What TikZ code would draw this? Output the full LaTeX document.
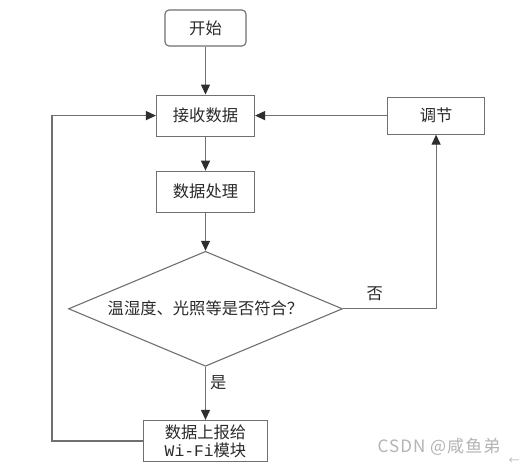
\documentclass[tikz,border=0pt]{standalone}
\usepackage{fontspec}
\setmainfont{Noto Sans CJK SC}
\setmonofont{Liberation Mono}
\usepackage{tikz}
\usetikzlibrary{arrows.meta,positioning,shapes.geometric}
\definecolor{lineGray}{HTML}{707070}
\definecolor{tipDark}{HTML}{2E2E2E}
\definecolor{textDark}{HTML}{2B2B2B}
\definecolor{markGray}{HTML}{B4B4B4}
\tikzset{
  font=\fontsize{16.3}{18}\selectfont,
  box/.style     ={draw=lineGray, fill=white, text=textDark, align=center, inner sep=1pt, line width=1.1pt},
  proc/.style    ={box, minimum width=98pt, minimum height=41pt},
  startbox/.style={box, rounded corners=4pt, minimum width=81pt, minimum height=36pt},
  decide/.style  ={box, diamond, aspect=2.38, inner sep=0pt, minimum width=274pt, minimum height=115pt},
  arr/.style     ={draw=lineGray, line width=1.2pt, -{Triangle[length=10pt,width=9pt,color=tipDark]}},
  lbl/.style     ={text=textDark, inner sep=1pt},
}

\begin{document}
\begin{tikzpicture}[x=1pt,y=-1pt]
  \useasboundingbox[fill=white] (0,0) rectangle (520,468);

  \node[startbox]                                   (start)  at (205.5,28) {开始};
  \node[proc, below=48pt of start]                  (recv)   {接收数据};
  \node[proc, below=34pt of recv]                   (proc)   {数据处理};
  \node[decide, below=38pt of proc]                 (check)  {温湿度、光照等是否符合？};
  \node[proc, minimum width=124pt, below=53pt of check] (report) {数据上报给\\{\ttfamily Wi-Fi}模块};
  \node[proc, minimum width=97pt, minimum height=37pt, right=132pt of recv] (adjust) {调节};
  \coordinate (loop) at (52,0 |- recv.west);

  \draw[arr] (start) -- (recv);
  \draw[arr] (recv) -- (proc);
  \draw[arr] (proc) -- (check);
  \draw[arr] (check) -- node[lbl, right=3pt, pos=0.3] {是} (report);
  \draw[arr] (check.east) -| node[lbl, above=6pt, pos=0.17] {否} (adjust);
  \draw[arr] (adjust) -- (recv);
  \draw[arr] (report.west) -| (loop) -- (recv.west);

  \node[text=markGray, font=\fontsize{17}{20}\selectfont\addfontfeatures{LetterSpace=6}] (mark) at (439,447) {CSDN @咸鱼弟};
  \node[text=markGray, font=\fontsize{11}{12}\selectfont] (ret) at (514,461) {←};
\end{tikzpicture}
\end{document}
